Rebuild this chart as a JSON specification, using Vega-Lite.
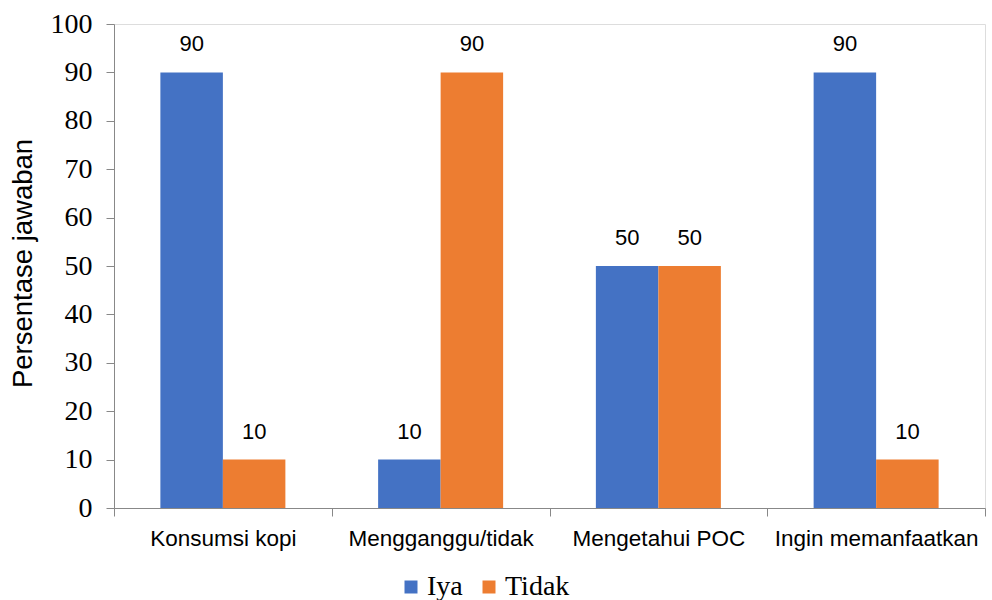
{
  "$schema": "https://vega.github.io/schema/vega-lite/v6.json",
  "width": 871,
  "height": 484,
  "autosize": {"type": "none"},
  "padding": {"left": 114, "top": 24, "right": 7, "bottom": 92},
  "background": "white",
  "data": {
    "values": [
      {"kategori": "Konsumsi kopi", "jawaban": "Iya", "persen": 90},
      {"kategori": "Konsumsi kopi", "jawaban": "Tidak", "persen": 10},
      {"kategori": "Mengganggu/tidak", "jawaban": "Iya", "persen": 10},
      {"kategori": "Mengganggu/tidak", "jawaban": "Tidak", "persen": 90},
      {"kategori": "Mengetahui POC", "jawaban": "Iya", "persen": 50},
      {"kategori": "Mengetahui POC", "jawaban": "Tidak", "persen": 50},
      {"kategori": "Ingin memanfaatkan", "jawaban": "Iya", "persen": 90},
      {"kategori": "Ingin memanfaatkan", "jawaban": "Tidak", "persen": 10}
    ]
  },
  "encoding": {
    "x": {
      "field": "kategori",
      "type": "nominal",
      "sort": null,
      "scale": {"paddingInner": 0, "paddingOuter": 0},
      "axis": {
        "title": null,
        "labelAngle": 0,
        "labelFont": "Liberation Sans",
        "labelFontSize": 22.5,
        "labelColor": "#000000",
        "labelPadding": 11,
        "labelOverlap": false,
        "labelBound": false,
        "labelLimit": 0,
        "tickBand": "extent",
        "tickSize": 8,
        "tickColor": "#888888",
        "domainColor": "#888888",
        "grid": false
      }
    },
    "xOffset": {
      "field": "jawaban",
      "type": "nominal",
      "scale": {"paddingOuter": 0.742, "paddingInner": 0}
    },
    "y": {
      "field": "persen",
      "type": "quantitative",
      "scale": {"domain": [0, 100]},
      "axis": {
        "title": "Persentase jawaban",
        "titleFont": "Liberation Sans",
        "titleFontSize": 27.5,
        "titleFontWeight": "normal",
        "titleColor": "#000000",
        "titleAngle": -90,
        "titleX": -91,
        "titleY": 239,
        "titleAlign": "center",
        "titleBaseline": "middle",
        "values": [0, 10, 20, 30, 40, 50, 60, 70, 80, 90, 100],
        "labelFont": "Liberation Serif",
        "labelFontSize": 28,
        "labelColor": "#000000",
        "labelPadding": 14,
        "tickSize": 8,
        "tickColor": "#888888",
        "domainColor": "#888888",
        "grid": false
      }
    }
  },
  "layer": [
    {
      "mark": {"type": "bar"},
      "encoding": {
        "color": {
          "field": "jawaban",
          "type": "nominal",
          "scale": {"domain": ["Iya", "Tidak"], "range": ["#4472C4", "#ED7D31"]},
          "legend": {
            "title": null,
            "orient": "none",
            "direction": "horizontal",
            "legendX": 283,
            "legendY": 549,
            "symbolType": "square",
            "symbolSize": 169,
            "symbolStrokeWidth": 0,
            "symbolOpacity": 1,
            "labelFont": "Liberation Serif",
            "labelFontSize": 28,
            "labelColor": "#000000",
            "labelOffset": 2,
            "columnPadding": 12,
            "padding": 0
          }
        }
      }
    },
    {
      "mark": {
        "type": "text",
        "baseline": "middle",
        "dy": -28,
        "font": "Liberation Sans",
        "fontSize": 22,
        "color": "#000000"
      },
      "encoding": {
        "text": {"field": "persen", "type": "quantitative"}
      }
    }
  ]
}
